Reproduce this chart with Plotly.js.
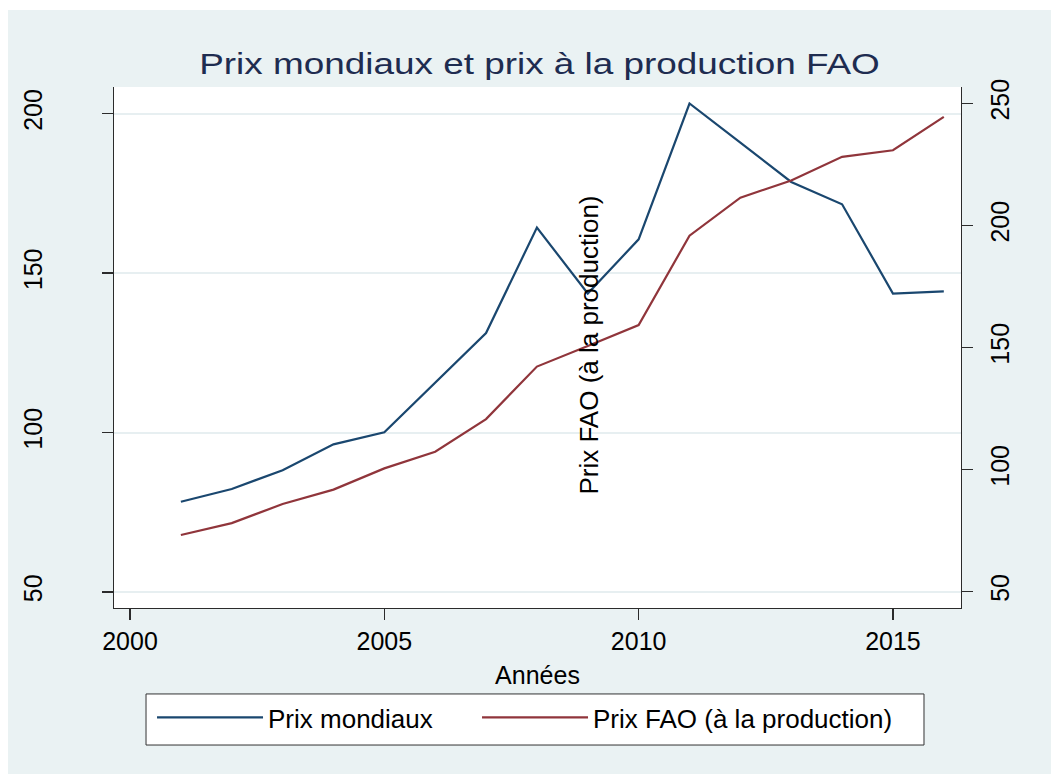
<!DOCTYPE html>
<html>
<head>
<meta charset="utf-8">
<script src="https://cdn.plot.ly/plotly-3.0.1.min.js"></script>
<style>
  html, body { margin: 0; padding: 0; background: #ffffff; }
  #chart { position: absolute; left: 8px; top: 10px; width: 1043px; height: 764px; }
  #chart .gtitle { transform-box: fill-box; transform-origin: center; transform: scaleX(1.23); }
</style>
</head>
<body>
<div id="chart"></div>
<script>
// Data
const annees = [2001, 2002, 2003, 2004, 2005, 2006, 2007, 2008, 2009, 2010, 2011, 2012, 2013, 2014, 2015, 2016];
const prixMondiaux = [78.3, 82.3, 88.2, 96.3, 100.1, 115.5, 131.2, 164.3, 143.6, 160.6, 203.2, 190.9, 178.6, 171.6, 143.6, 144.3];
const prixFAO = [73.2, 78.1, 85.9, 91.8, 100.5, 107.3, 120.7, 142.2, 150.6, 159.2, 195.8, 211.4, 218.4, 228.1, 230.8, 244.5];
const xTicks = [2000, 2005, 2010, 2015];
const yLeftTicks = [50, 100, 150, 200];
const yRightTicks = [50, 100, 150, 200, 250];
const titre = "Prix mondiaux et prix à la production FAO";
const nomMondiaux = "Prix mondiaux";
const nomFAO = "Prix FAO (à la production)";
const titreX = "Années";

const font = "Liberation Sans, Arial, Helvetica, sans-serif";
const axisCol = "#2b2b2b";

const traces = [
  { x: annees, y: prixMondiaux, name: nomMondiaux, type: "scatter", mode: "lines",
    line: { color: "#1a476f", width: 2.2 }, yaxis: "y", legend: "legend" },
  { x: annees, y: prixFAO, name: nomFAO, type: "scatter", mode: "lines",
    line: { color: "#90353b", width: 2.2 }, yaxis: "y2", legend: "legend2" }
];

const legendCommon = {
  orientation: "h", xanchor: "left", y: -0.165, yanchor: "top",
  bgcolor: "rgba(0,0,0,0)", borderwidth: 0,
  font: { family: font, size: 26, color: "#000" },
  itemwidth: 106
};

const layout = {
  width: 1043, height: 764,
  paper_bgcolor: "#eaf2f3",
  plot_bgcolor: "#ffffff",
  margin: { l: 106, r: 90, t: 77, b: 166, pad: 0 },
  font: { family: font, size: 25, color: "#000000" },
  title: {
    text: titre, font: { family: font, size: 30, color: "#1e2c50" },
    xref: "container", x: 0.5096, xanchor: "center",
    yref: "container", y: 0.930, yanchor: "middle"
  },
  xaxis: {
    range: [1999.685, 2016.338], tickvals: xTicks, ticktext: xTicks.map(String),
    showgrid: false, zeroline: false,
    showline: true, linecolor: axisCol, linewidth: 1.4,
    ticks: "outside", ticklen: 11, tickwidth: 1.4, tickcolor: axisCol,
    tickfont: { family: font, size: 25, color: "#000" },
    title: { text: titreX, font: { family: font, size: 25, color: "#000" }, standoff: 12 }
  },
  yaxis: {
    range: [44.98, 208.37], tickvals: yLeftTicks, ticktext: yLeftTicks.map(String),
    tickangle: -90,
    showgrid: true, gridcolor: "#e7eff1", gridwidth: 2, zeroline: false,
    showline: true, linecolor: axisCol, linewidth: 1.4,
    ticks: "outside", ticklen: 11, tickwidth: 1.4, tickcolor: axisCol,
    ticklabelstandoff: 50,
    tickfont: { family: font, size: 25, color: "#000" }
  },
  yaxis2: {
    range: [43.32, 256.72], tickvals: yRightTicks, ticktext: yRightTicks.map(String),
    overlaying: "y", side: "right", tickangle: -90,
    showgrid: false, zeroline: false,
    showline: true, linecolor: axisCol, linewidth: 1.4,
    ticks: "outside", ticklen: 11, tickwidth: 1.4, tickcolor: axisCol,
    ticklabelstandoff: 6,
    tickfont: { family: font, size: 25, color: "#000" }
  },
  showlegend: true,
  legend: Object.assign({}, legendCommon, { x: 0.0449 }),
  legend2: Object.assign({}, legendCommon, { x: 0.4286 }),
  shapes: [{
    type: "rect", xref: "paper", yref: "paper",
    x0: 0.0378, x1: 0.9563, y0: -0.263, y1: -0.165,
    fillcolor: "#ffffff", line: { color: "#333333", width: 1 }, layer: "below"
  }],
  annotations: [{
    text: nomFAO, xref: "paper", yref: "paper", x: 0.561, y: 0.504,
    xanchor: "center", yanchor: "middle", textangle: -90, showarrow: false,
    font: { family: font, size: 26, color: "#000" }
  }]
};

Plotly.newPlot("chart", traces, layout, { displayModeBar: false, staticPlot: true });
</script>
</body>
</html>
